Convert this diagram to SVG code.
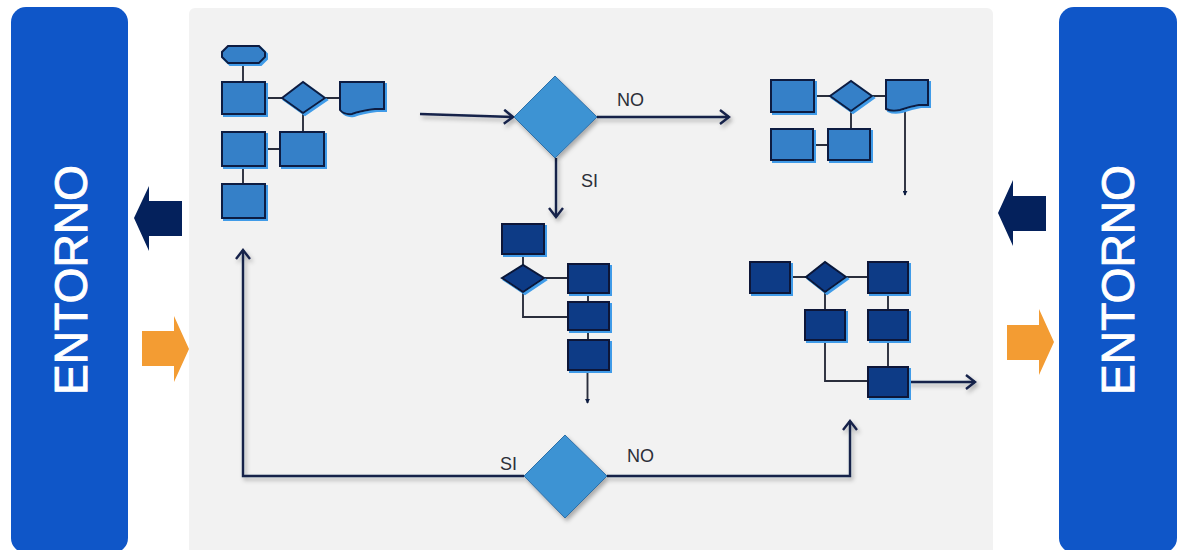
<svg xmlns="http://www.w3.org/2000/svg" width="1182" height="550" viewBox="0 0 1182 550">
<style>
.env{fill:#0f56c8}
.envt{fill:#fff;stroke:#fff;stroke-width:0.9;font-family:"Liberation Sans",Arial,sans-serif;font-size:46px}
.lbl{fill:#2b2f38;font-family:"Liberation Sans",Arial,sans-serif;font-size:18px}
.a{fill:#3580c8;stroke:#0c1c42;stroke-width:2;filter:url(#sa)}
.b{fill:#0e3a86;stroke:#071738;stroke-width:2;filter:url(#sa)}
.big{fill:#3d93d3;stroke:#2f6fa8;stroke-width:1;filter:url(#sb)}
.thin{fill:none;stroke:#2a2e3c;stroke-width:1.9}
.main{fill:none;stroke:#14214a;stroke-width:2.4}
.darr{fill:#04215c}
.oarr{fill:#f39c33}
</style>
<defs>
<filter id="sa" x="-20%" y="-20%" width="150%" height="150%"><feDropShadow dx="2" dy="2" stdDeviation="0.4" flood-color="#3f9be8" result="s"/><feGaussianBlur in="s" stdDeviation="0.35"/></filter>
<filter id="sb" x="-20%" y="-20%" width="150%" height="150%"><feDropShadow dx="2" dy="3" stdDeviation="2" flood-color="#000" flood-opacity="0.3"/></filter>
<filter id="sc" filterUnits="userSpaceOnUse" x="0" y="0" width="1182" height="550"><feDropShadow dx="2" dy="3" stdDeviation="2" flood-color="#000" flood-opacity="0.3"/></filter>
<marker id="open" viewBox="0 0 16 16" refX="14" refY="8" markerWidth="16" markerHeight="16" markerUnits="userSpaceOnUse" orient="auto"><path d="M5 1L14 8L5 15" fill="none" stroke="#14214a" stroke-width="2.4"/></marker>
<marker id="tiny" viewBox="0 0 6 6" refX="5" refY="3" markerWidth="5" markerHeight="5" markerUnits="userSpaceOnUse" orient="auto"><path d="M0 0L6 3L0 6Z" fill="#0c1c42"/></marker>
</defs>
<rect width="1182" height="550" fill="#fff"/>
<g id="panel"><rect x="189" y="8" width="804" height="550" rx="6" fill="#f2f2f2"/></g>
<g id="entorno-left"><rect class="env" x="11" y="7" width="117" height="546" rx="15"/><text class="envt" transform="translate(87,395) rotate(-90)" textLength="230" lengthAdjust="spacingAndGlyphs">ENTORNO</text></g>
<g id="entorno-right"><rect class="env" x="1059" y="7" width="118" height="546" rx="15"/><text class="envt" transform="translate(1134,395) rotate(-90)" textLength="230" lengthAdjust="spacingAndGlyphs">ENTORNO</text></g>
<g id="arrow-out-left"><path class="darr" d="M134 218L149 186V201H182V236H149V251Z"/></g>
<g id="arrow-in-left"><path class="oarr" d="M142 331H174V316L189 349L174 382V366H142Z"/></g>
<g id="arrow-out-right"><path class="darr" d="M998 213L1013 180V196H1046V231H1013V246Z"/></g>
<g id="arrow-in-right"><path class="oarr" d="M1007 325H1039V309L1054 342L1039 375V360H1007Z"/></g>
<g id="connectors">
<g filter="url(#sc)">
<path class="main" marker-end="url(#open)" d="M420 114L513 117"/>
<path class="main" marker-end="url(#open)" d="M597 117H729"/>
<path class="main" marker-end="url(#open)" d="M556 158V217"/>
<path class="main" marker-end="url(#open)" d="M524 476H243V250"/>
<path class="main" marker-end="url(#open)" d="M607 476H850V421"/>
<path class="main" marker-end="url(#open)" d="M908 382H975"/>
</g>
<g class="thin">
<path d="M243 63V82M265 98H282M325 98H340M303 113V132M265 149H280M243 166V184"/>
<path d="M814 96H830M872 96H886M851 111V129M813 145H828"/>
<path marker-end="url(#tiny)" d="M905 112V195"/>
<path d="M523 254V265M544 278H568M588 293V302M588 330V340"/>
<path d="M523 292V317H568"/>
<path marker-end="url(#tiny)" d="M587.500 370V403"/>
<path d="M790 277H806M846 277H868M825 292V310M888 293V310M888 340V367"/>
<path d="M825 340V381H868"/>
</g>
</g>
<g id="chart1">
<path id="c1-start" class="a" d="M228 46H259L265 52V57L259 63H228L222 57V52Z"/>
<rect id="c1-r1" class="a" x="222" y="82" width="43" height="32"/>
<path id="c1-d" class="a" d="M282 98L303 82L325 98L303 113Z"/>
<path id="c1-doc" class="a" d="M340 82H384V109H375Q360 111 352 114Q344 115 340 110Z"/>
<rect id="c1-r2" class="a" x="222" y="132" width="43" height="34"/>
<rect id="c1-r3" class="a" x="280" y="132" width="44" height="34"/>
<rect id="c1-r4" class="a" x="222" y="184" width="43" height="34"/>
</g>
<g id="chart2">
<rect id="c2-r1" class="a" x="771" y="80" width="43" height="32"/>
<path id="c2-d" class="a" d="M830 96L851 81L872 96L851 111Z"/>
<path id="c2-doc" class="a" d="M886 80H928V105H919Q908 107 900 110Q892 112 886 109Z"/>
<rect id="c2-r2" class="a" x="771" y="129" width="42" height="31"/>
<rect id="c2-r3" class="a" x="828" y="129" width="42" height="31"/>
</g>
<g id="chart3">
<rect id="c3-r1" class="b" x="502" y="224" width="42" height="30"/>
<path id="c3-d" class="b" d="M502 278L523 265L544 278L523 292Z"/>
<rect id="c3-r2" class="b" x="568" y="264" width="41" height="29"/>
<rect id="c3-r3" class="b" x="568" y="302" width="41" height="28"/>
<rect id="c3-r4" class="b" x="568" y="340" width="41" height="30"/>
</g>
<g id="chart4">
<rect id="c4-r1" class="b" x="750" y="262" width="40" height="31"/>
<path id="c4-d" class="b" d="M806 277L825 262L846 277L825 292Z"/>
<rect id="c4-r2" class="b" x="868" y="262" width="40" height="31"/>
<rect id="c4-r3" class="b" x="805" y="310" width="40" height="30"/>
<rect id="c4-r4" class="b" x="868" y="310" width="40" height="30"/>
<rect id="c4-r5" class="b" x="868" y="367" width="40" height="30"/>
</g>
<g id="decision-top"><path class="big" d="M514 117L555 76L597 117L555 158Z"/></g>
<g id="decision-bottom"><path class="big" d="M524 476L565 435L607 476L565 518Z"/></g>
<g id="labels">
<text class="lbl" x="617" y="106">NO</text>
<text class="lbl" x="581" y="187">SI</text>
<text class="lbl" x="500" y="470">SI</text>
<text class="lbl" x="627" y="462">NO</text>
</g>
</svg>
